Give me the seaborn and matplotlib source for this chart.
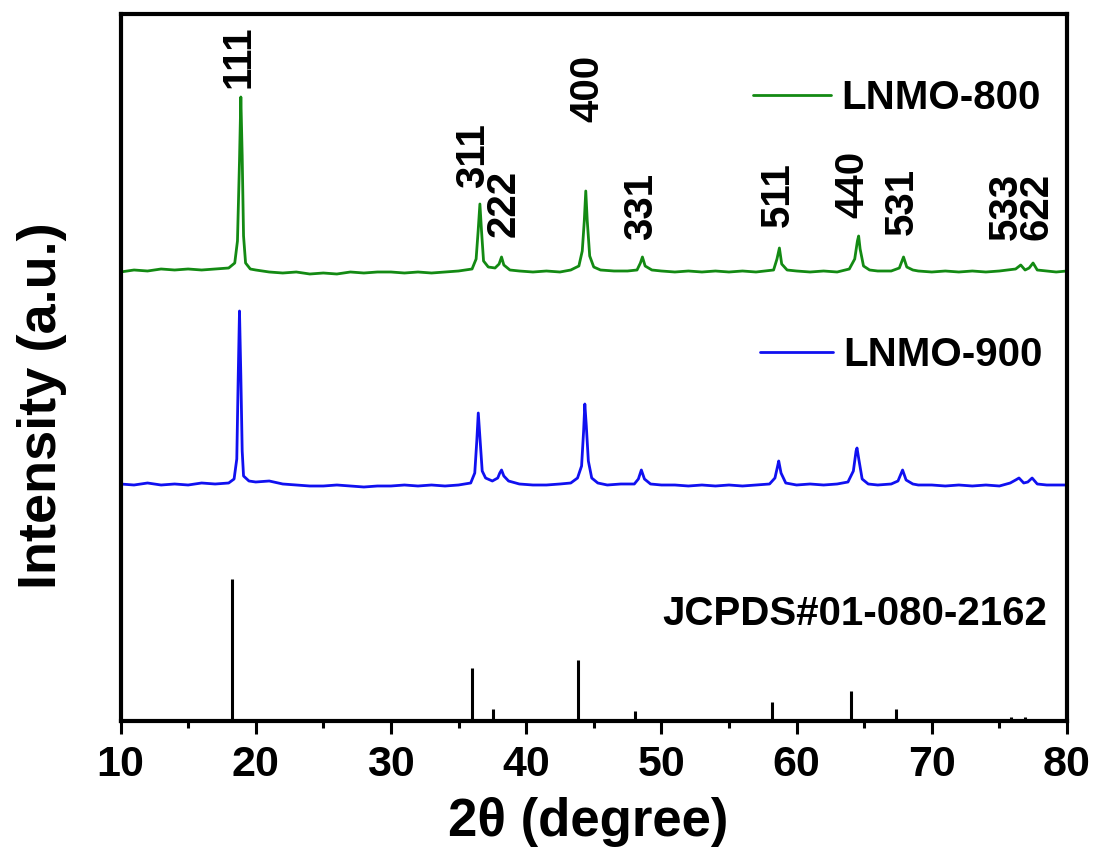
import matplotlib
matplotlib.use("Agg")
import matplotlib.pyplot as plt
import seaborn as sns
import pandas as pd
from matplotlib.lines import Line2D
from matplotlib.ticker import MultipleLocator

# ---------------- data ----------------
tt_800 = [10, 11, 12, 13, 14, 15, 16, 17, 18, 18.45, 18.65, 18.8, 18.9, 19.0, 19.1, 19.25, 19.6,
          20, 21, 22, 23, 24, 25, 26, 27, 28, 29, 30, 31, 32, 33, 34, 35,
          36.0, 36.3, 36.45, 36.58, 36.7, 36.85, 37.2, 37.7, 38.0, 38.18, 38.35, 38.8,
          39.5, 40.5, 41.5, 42.5, 43.3, 43.9, 44.15, 44.3, 44.41, 44.52, 44.7, 45.0, 45.5,
          46.5, 47.5, 48.2, 48.45, 48.6, 48.8, 49.3, 50, 51, 52, 53, 54, 55, 56, 57,
          58.3, 58.55, 58.73, 58.9, 59.3, 60, 61, 62, 63, 63.9, 64.3, 64.5, 64.59, 64.7,
          64.95, 65.4, 66, 67, 67.6, 67.91, 68.15, 68.6, 69, 70, 71, 72, 73, 74, 75,
          76.2, 76.58, 76.9, 77.2, 77.49, 77.8, 78.5, 79.2, 80]
int_800 = [449, 451, 450, 452, 451, 452, 451, 452, 453, 458, 480, 560, 624, 565, 485, 458, 452,
           451, 449, 448, 449, 447, 448, 447, 449, 448, 449, 449, 448, 449, 448, 449, 450,
           452, 462, 490, 517, 490, 460, 454, 453, 457, 464, 456, 451,
           450, 449, 450, 449, 451, 455, 470, 500, 530, 500, 465, 454, 451,
           450, 450, 451, 458, 464, 455, 451, 450, 449, 450, 449, 450, 449, 450, 449,
           451, 462, 473, 457, 451, 450, 449, 450, 449, 452, 462, 480, 485, 472,
           455, 451, 450, 450, 453, 464, 454, 451, 450, 449, 450, 449, 450, 449, 450,
           452, 456, 451, 453, 458, 451, 450, 449, 450]

tt_900 = [10, 11, 12, 13, 14, 15, 16, 17, 18, 18.4, 18.6, 18.7, 18.8, 18.9, 19.0, 19.1, 19.5,
          20, 21, 22, 23, 24, 25, 26, 27, 28, 29, 30, 31, 32, 33, 34, 35,
          35.9, 36.2, 36.35, 36.46, 36.6, 36.75, 37.0, 37.5, 37.9, 38.05, 38.18, 38.35, 38.7,
          39.5, 40.5, 41.5, 42.5, 43.3, 43.8, 44.1, 44.25, 44.34, 44.45, 44.6, 44.85, 45.3,
          46, 47, 48.0, 48.3, 48.52, 48.75, 49.2, 50, 51, 52, 53, 54, 55, 56, 57,
          58.0, 58.4, 58.6, 58.68, 58.85, 59.2, 60, 61, 62, 63, 63.8, 64.2, 64.4, 64.47, 64.6,
          64.85, 65.3, 66, 67, 67.5, 67.84, 68.1, 68.6, 69, 70, 71, 72, 73, 74, 75,
          75.8, 76.2, 76.45, 76.8, 77.1, 77.42, 77.8, 78.5, 79.2, 80]
int_900 = [237, 236, 238, 236, 237, 236, 238, 237, 238, 242, 262, 340, 410, 345, 270, 245, 240,
           239, 240, 237, 236, 235, 235, 236, 235, 234, 235, 235, 236, 235, 236, 235, 236,
           238, 248, 280, 308, 280, 250, 243, 240, 243, 248, 251, 245, 240,
           237, 236, 236, 237, 238, 243, 255, 290, 317, 295, 260, 243, 238,
           236, 237, 237, 242, 251, 242, 237, 236, 236, 235, 236, 235, 236, 235, 236,
           237, 243, 255, 260, 248, 238, 236, 237, 236, 237, 239, 250, 270, 273, 262,
           242, 237, 236, 237, 240, 251, 241, 237, 236, 236, 235, 236, 235, 236, 235,
           238, 241, 243, 238, 239, 243, 237, 236, 236, 236]

jcpds_tt = [18.25, 35.97, 37.57, 43.80, 48.07, 58.17, 64.02, 67.35, 75.89, 76.90]
jcpds_int = [141.7, 52.7, 11.7, 61.0, 10.0, 19.3, 30.0, 12.0, 4.3, 4.3]

hkl_labels = ["111", "311", "222", "400", "331", "511", "440", "531", "533", "622"]
hkl_x = [18.69, 36.07, 38.36, 44.50, 48.50, 58.64, 64.10, 67.80, 75.50, 77.75]
hkl_y = [633, 533, 484, 599, 481, 494, 503, 486, 481, 481]

series_names = ["LNMO-800", "LNMO-900"]
series_colors = ["#138a13", "#1010f0"]
ref_label = "JCPDS#01-080-2162"
x_ticks = [10, 20, 30, 40, 50, 60, 70, 80]

# ---------------- style ----------------
sns.set_theme(style="ticks")
plt.rcParams["font.family"] = ["Liberation Sans", "DejaVu Sans"]
plt.rcParams["font.weight"] = "bold"
plt.rcParams["text.color"] = "black"
plt.rcParams["axes.labelcolor"] = "black"
plt.rcParams["xtick.color"] = "black"
plt.rcParams["ytick.color"] = "black"
plt.rcParams["axes.edgecolor"] = "black"

fig = plt.figure(figsize=(10.96, 8.5), dpi=100)
ax = fig.add_axes([120.5 / 1096, (850 - 721) / 850, 946.5 / 1096, 707 / 850])

df800 = pd.DataFrame({"tt": tt_800, "I": int_800})
df900 = pd.DataFrame({"tt": tt_900, "I": int_900})
sns.lineplot(data=df800, x="tt", y="I", ax=ax, color=series_colors[0], lw=2.0, legend=False)
sns.lineplot(data=df900, x="tt", y="I", ax=ax, color=series_colors[1], lw=2.0, legend=False)
ax.vlines(jcpds_tt, 0, jcpds_int, color="black", lw=2.2)

for lab, x, y in zip(hkl_labels, hkl_x, hkl_y):
    ax.text(x, y, lab, rotation=90, ha="center", va="bottom",
            fontsize=29, fontweight="bold", color="black")

ax.text(78.53, 96, ref_label, ha="right", va="baseline", fontsize=29,
        fontweight="bold", color="black")

h1 = Line2D([], [], color=series_colors[0], lw=2.0)
h2 = Line2D([], [], color=series_colors[1], lw=2.0)
leg1 = ax.legend([h1], [series_names[0]], loc="center left", bbox_to_anchor=(0.668, 0.881),
                 frameon=False, borderpad=0, borderaxespad=0, handlelength=1.95,
                 handletextpad=0.25, prop={"size": 29, "weight": "bold"}, labelcolor="black")
ax.add_artist(leg1)
ax.legend([h2], [series_names[1]], loc="center left", bbox_to_anchor=(0.676, 0.518),
          frameon=False, borderpad=0, borderaxespad=0, handlelength=1.8,
          handletextpad=0.25, prop={"size": 29, "weight": "bold"}, labelcolor="black")

ax.set_xlim(10, 80)
ax.set_ylim(0, 707)
ax.set_xticks(x_ticks)
ax.set_xticklabels([str(t) for t in x_ticks])
ax.xaxis.set_minor_locator(MultipleLocator(5))
ax.set_yticks([])
ax.tick_params(axis="x", which="major", direction="out", length=9, width=2.2,
               labelsize=31, pad=8, color="black", labelcolor="black")
ax.tick_params(axis="x", which="minor", direction="out", length=5, width=2.2, color="black")
for lbl in ax.get_xticklabels():
    lbl.set_fontweight("bold")
for sp in ax.spines.values():
    sp.set_visible(True)
    sp.set_linewidth(3.0)
    sp.set_color("black")

ax.set_xlabel("2θ (degree)", fontsize=38, fontweight="bold", color="black")
ax.set_ylabel("Intensity (a.u.)", fontsize=39, fontweight="bold", color="black")
ax.xaxis.set_label_coords(0.494, -0.108)
ax.yaxis.set_label_coords(-0.0565, 0.446)

fig.savefig("out.png", dpi=100, facecolor="white")
